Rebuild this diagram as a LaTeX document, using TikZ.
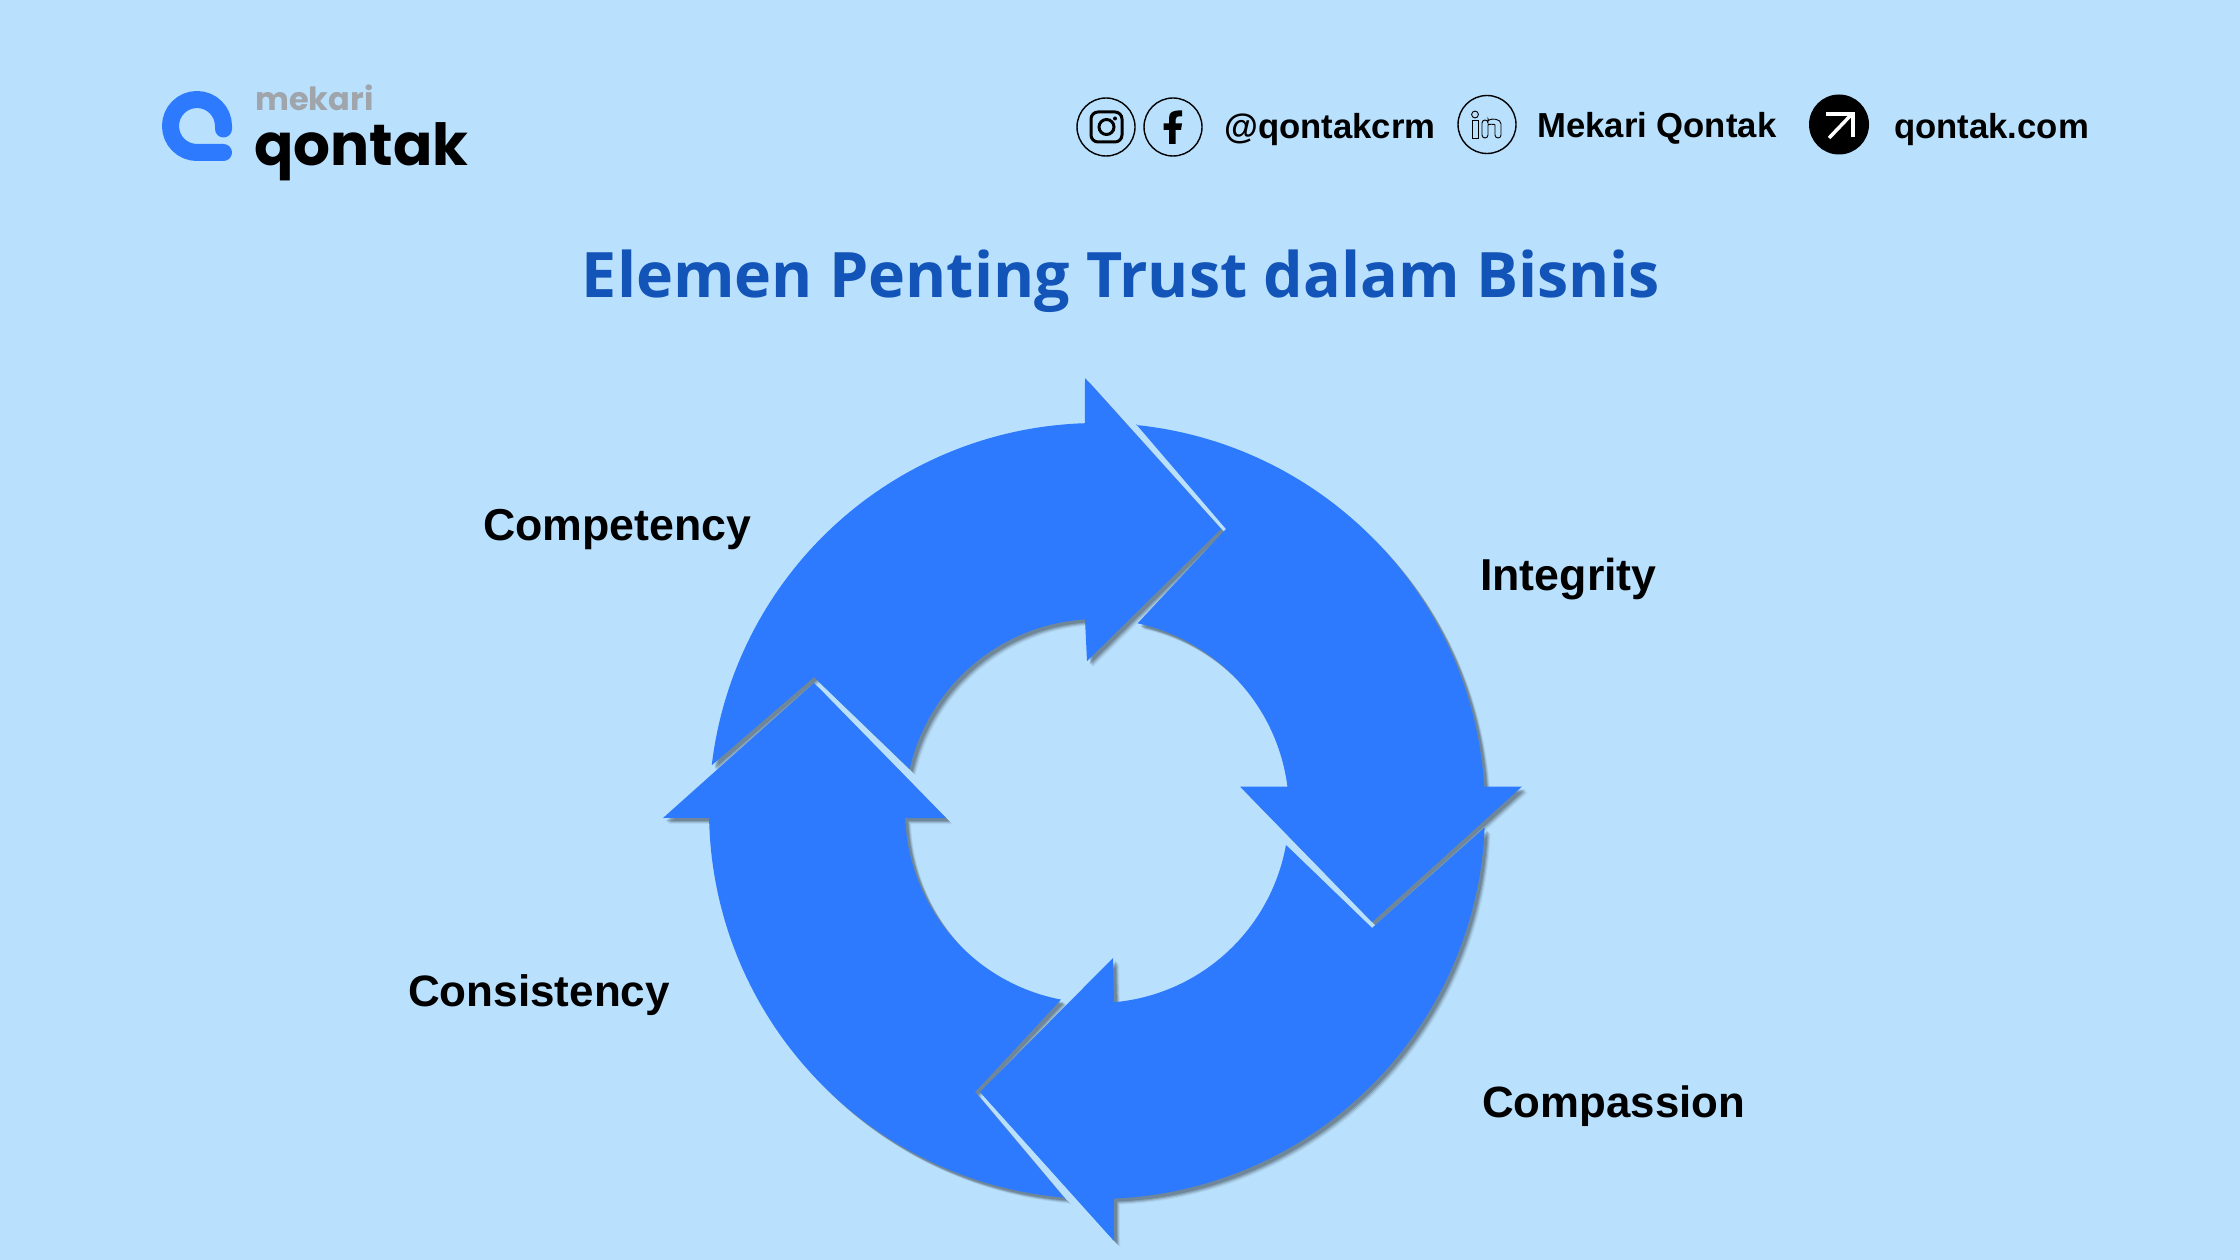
\documentclass[tikz,border=0pt]{standalone}
\usepackage{fontspec}
\setmainfont{Liberation Sans}
\newfontfamily\poppins{Poppins}
\newfontfamily\opens{Open Sans}
\definecolor{bgc}{RGB}{185,225,254}
\definecolor{bluec}{RGB}{45,122,255}
\definecolor{titlec}{RGB}{18,84,184}
\definecolor{greyc}{RGB}{160,165,172}
\newcommand{\OutArc}[2]{-- plot[domain=#1:#2,samples=70,variable=\t] ({1097+388*cos(\t)},{811-388*sin(\t)})}
\newcommand{\InArc}[2]{-- plot[domain=#1:#2,samples=50,variable=\t] ({1097+192*cos(\t)},{811-192*sin(\t)})}
\newcommand{\ArrA}{(712,765) \OutArc{173.2}{91.8} -- (1085,378) -- (1221,529) -- (1087,661) -- (1085,619.5) \InArc{93.6}{167.4} -- (814,677) -- cycle}
\newcommand{\ArrB}{(1136,424) \OutArc{84.2}{3.6} -- (1522,786.5) -- (1372,922) -- (1240,786.5) -- (1288,786.5) \InArc{7.3}{77.8} -- (1226,529) -- cycle}
\newcommand{\ArrC}{(1484,828) \OutArc{-2.5}{-87.5} -- (1114,1241) -- (980,1092) -- (1113,958) -- (1114,1003) \InArc{-84.9}{-10.2} -- (1372,928) -- cycle}
\newcommand{\ArrD}{(1065,1199) \OutArc{-94.7}{-179} -- (663,818) -- (814,683) -- (946,818) -- (905,818) \InArc{-177.9}{-100.8} -- (975,1092) -- cycle}
\newcommand{\AllArr}{\ArrA \ArrB \ArrC \ArrD}
\tikzset{
  x=1pt,y=-1pt,
  label text/.style={anchor=base west,inner sep=0pt,font=\fontsize{#1}{45}\selectfont\bfseries,text=black},
  label text/.default=44.7,
  head text/.style={anchor=base west,inner sep=0pt,font=\fontsize{34.7}{35}\selectfont\bfseries,text=black},
  icon ring/.style={draw=black,line width=1.4pt},
}
\begin{document}
\begin{tikzpicture}
\useasboundingbox (0,0) rectangle (2240,1260);
\fill[bgc] (0,0) rectangle (2240,1260);
% logo
\draw[bluec,line width=17pt,line cap=round,line join=round]
  (223.5,129) -- (223.5,126) arc[start angle=0,end angle=270,radius=26.5pt] -- (223.5,152.5);
\node[anchor=base west,inner sep=0pt,font=\fontsize{32}{32}\poppins\bfseries,text=greyc] (mekari) at (255,111) {mekari};
\node[anchor=base west,inner sep=0pt,font=\fontsize{58}{58}\poppins\bfseries,text=black] (qontak) at (254,166) {qontak};
% instagram
\draw[icon ring] (1106,127) circle[radius=29pt];
\draw[black,line width=3pt,rounded corners=7pt] (1091,112) rectangle (1122,142);
\draw[black,line width=3pt] (1106.5,127) circle[radius=7.5pt];
\fill[black] (1115,118.5) circle[radius=2pt];
% facebook
\draw[icon ring] (1173,127) circle[radius=29pt];
\fill[black] (1169,144) -- (1169,130) -- (1163.5,130) -- (1163.5,123.5) -- (1169,123.5) -- (1169,118)
  .. controls (1169,112) and (1173,110) .. (1182,110.5) -- (1182,116.5)
  .. controls (1177,116) and (1175.5,117) .. (1175.5,119.5) -- (1175.5,123.5) -- (1182,123.5) -- (1181,130) -- (1175.5,130) -- (1175.5,144) -- cycle;
\node[head text] (ig) at (1224,139) {@qontakcrm};
% linkedin
\draw[icon ring] (1487,124.5) circle[radius=29pt];
\draw[black,line width=.9pt] (1472,120) rectangle (1478,138);
\draw[black,line width=.9pt] (1475,114.5) circle[radius=3.4pt];
\draw[black,line width=.9pt,rounded corners=3pt] (1482,138) -- (1482,120) -- (1488,120) -- (1488,122) .. controls (1491,118.5) and (1501,118.5) .. (1501,127) -- (1501,138) -- (1495,138) -- (1495,128) .. controls (1495,124) and (1488,124) .. (1488,128) -- (1488,138) -- cycle;
\node[head text] (li) at (1537,137.5) {Mekari Qontak};
% web
\fill[black] (1839,124.5) circle[radius=30pt];
\draw[white,line width=3.5pt] (1829,138) -- (1851,115);
\draw[white,line width=3.5pt] (1826,114) -- (1853,114) -- (1853,137);
\node[head text] (web) at (1894,139) {qontak.com};
% title
\node[anchor=base,inner sep=0pt,font=\fontsize{62.7}{64}\opens\bfseries,text=titlec] (title) at (1121,297) {Elemen Penting Trust dalam Bisnis};
% shadows
\fill[black,opacity=.06,shift={(6,6)}] \AllArr;
\fill[black,opacity=.10,shift={(5,5)}] \AllArr;
\fill[black,opacity=.14,shift={(4,4)}] \AllArr;
\fill[black,opacity=.16,shift={(3,3)}] \AllArr;
\fill[bluec] \AllArr;
% labels
\node[label text] (comp) at (483,540) {Competency};
\node[label text] (integ) at (1480,590) {Integrity};
\node[label text=43.8] (compa) at (1482,1117) {Compassion};
\node[label text=44] (cons) at (408,1006) {Consistency};
\end{tikzpicture}
\end{document}
